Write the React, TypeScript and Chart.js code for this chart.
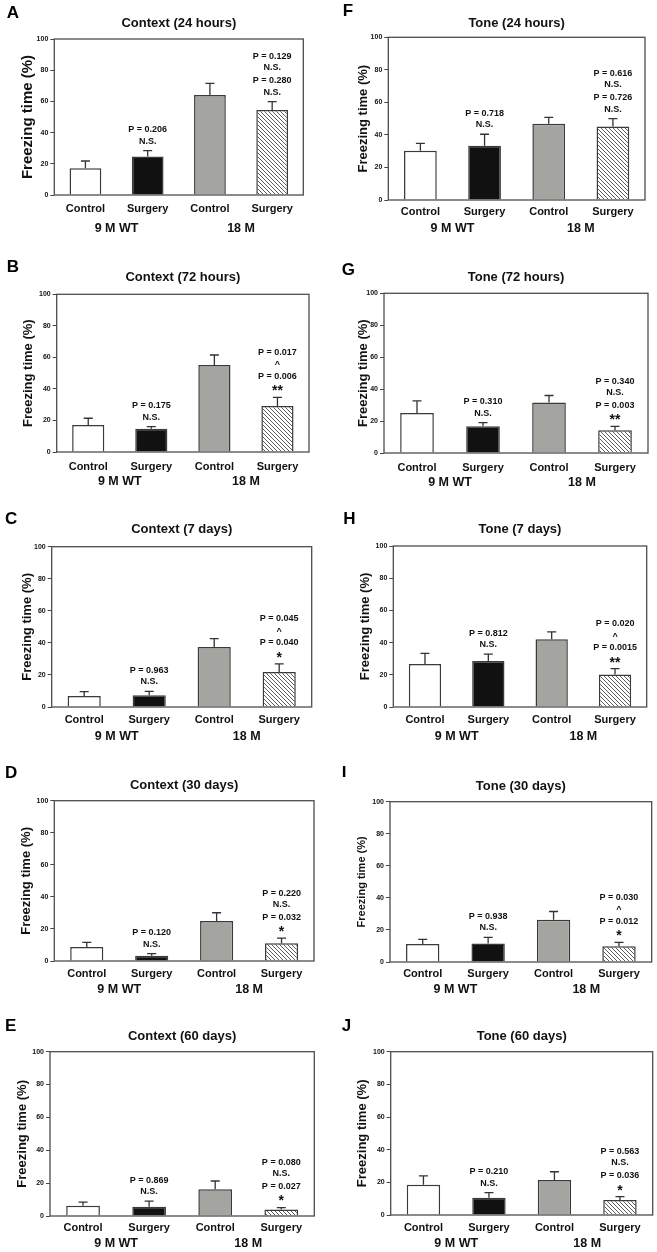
import React, { useEffect, useRef } from 'react';
import { Chart, registerables } from 'chart.js';

Chart.register(...registerables);
Chart.defaults.font.family = "'Liberation Sans', Arial, Helvetica, sans-serif";
Chart.defaults.color = '#111';

// ---------- data ----------
const categories = ['Control', 'Surgery', 'Control', 'Surgery'];
const groups = ['9 M WT', '18 M'];
const yAxisTitle = 'Freezing time (%)';

// Context test: mean freezing (%) and SEM per group
const ctx24hMean = [17.1, 24.6, 64.1, 54.5];
const ctx24hSem = [4.7, 3.8, 7.5, 5.3];
const ctx72hMean = [17.1, 14.8, 55.2, 29.2];
const ctx72hSem = [4.3, 1.3, 6.3, 5.5];
const ctx7dMean = [6.9, 7.3, 37.5, 21.9];
const ctx7dSem = [2.7, 2.5, 5.2, 5.0];
const ctx30dMean = [8.7, 3.3, 24.9, 11.0];
const ctx30dSem = [2.9, 1.3, 5.2, 3.3];
const ctx60dMean = [6.3, 5.7, 16.3, 3.9];
const ctx60dSem = [2.2, 3.4, 5.0, 1.2];

// Tone test
const tone24hMean = [30.3, 33.4, 46.9, 45.1];
const tone24hSem = [4.5, 7.0, 3.9, 4.9];
const tone72hMean = [25.0, 16.7, 31.7, 14.2];
const tone72hSem = [7.7, 2.3, 4.3, 2.5];
const tone7dMean = [26.7, 28.5, 42.1, 20.2];
const tone7dSem = [6.6, 4.4, 4.6, 3.6];
const tone30dMean = [11.2, 11.6, 26.3, 9.8];
const tone30dSem = [2.9, 3.8, 5.2, 2.4];
const tone60dMean = [18.6, 10.6, 21.4, 9.2];
const tone60dSem = [5.3, 3.1, 5.1, 2.0];

// annotation text above 9M surgery bar and 18M surgery bar
const notesA = [['P = 0.206', 'N.S.'], ['P = 0.129', 'N.S.', 'P = 0.280', 'N.S.']];
const notesB = [['P = 0.175', 'N.S.'], ['P = 0.017', '^', 'P = 0.006', '**']];
const notesC = [['P = 0.963', 'N.S.'], ['P = 0.045', '^', 'P = 0.040', '*']];
const notesD = [['P = 0.120', 'N.S.'], ['P = 0.220', 'N.S.', 'P = 0.032', '*']];
const notesE = [['P = 0.869', 'N.S.'], ['P = 0.080', 'N.S.', 'P = 0.027', '*']];
const notesF = [['P = 0.718', 'N.S.'], ['P = 0.616', 'N.S.', 'P = 0.726', 'N.S.']];
const notesG = [['P = 0.310', 'N.S.'], ['P = 0.340', 'N.S.', 'P = 0.003', '**']];
const notesH = [['P = 0.812', 'N.S.'], ['P = 0.020', '^', 'P = 0.0015', '**']];
const notesI = [['P = 0.938', 'N.S.'], ['P = 0.030', '^', 'P = 0.012', '*']];
const notesJ = [['P = 0.210', 'N.S.'], ['P = 0.563', 'N.S.', 'P = 0.036', '*']];

// ---------- layout (positions only) ----------
type Layout = {
  x: number; w: number; L: number; R: number; T: number; B: number;
  titleY: number; catY: number; groupY: number; yTitleX: number; yTitleSize: number;
  letterX: number; letterY: number;
};
const layoutA: Layout = { x: 0, w: 330, L: 54.3, R: 303.3, T: 39, B: 195, titleY: 23, catY: 208.7, groupY: 228.3, yTitleX: 28, yTitleSize: 15, letterX: 6.7, letterY: 13.3 };
const layoutF: Layout = { x: 330, w: 327, L: 388.3, R: 645, T: 37.3, B: 200, titleY: 23.3, catY: 211.7, groupY: 228.5, yTitleX: 363, yTitleSize: 13, letterX: 342.7, letterY: 11.7 };
const layoutB: Layout = { x: 0, w: 330, L: 56.7, R: 309, T: 294.3, B: 452, titleY: 277.3, catY: 466.7, groupY: 481.7, yTitleX: 28, yTitleSize: 13, letterX: 6.7, letterY: 267.5 };
const layoutG: Layout = { x: 330, w: 327, L: 384, R: 648, T: 293.3, B: 453.3, titleY: 277.3, catY: 468.3, groupY: 483.3, yTitleX: 363, yTitleSize: 13, letterX: 341.7, letterY: 270 };
const layoutC: Layout = { x: 0, w: 330, L: 51.7, R: 311.7, T: 546.7, B: 706.7, titleY: 529.3, catY: 720, groupY: 736.7, yTitleX: 27, yTitleSize: 13, letterX: 5, letterY: 519 };
const layoutH: Layout = { x: 330, w: 327, L: 393.3, R: 646.7, T: 546, B: 707.3, titleY: 529.3, catY: 720, groupY: 737, yTitleX: 365, yTitleSize: 13, letterX: 343.3, letterY: 519 };
const layoutD: Layout = { x: 0, w: 330, L: 54.3, R: 314, T: 800.7, B: 961, titleY: 785.7, catY: 974.3, groupY: 990, yTitleX: 26, yTitleSize: 13, letterX: 5, letterY: 773.3 };
const layoutI: Layout = { x: 330, w: 327, L: 390, R: 651.7, T: 801.7, B: 962.3, titleY: 786.7, catY: 974.3, groupY: 990, yTitleX: 362, yTitleSize: 11, letterX: 341.7, letterY: 772.5 };
const layoutE: Layout = { x: 0, w: 330, L: 50, R: 314.3, T: 1051.7, B: 1215.7, titleY: 1036, catY: 1227.7, groupY: 1243, yTitleX: 22, yTitleSize: 13, letterX: 5, letterY: 1026.7 };
const layoutJ: Layout = { x: 330, w: 327, L: 390.7, R: 652.7, T: 1051.7, B: 1215, titleY: 1036.7, catY: 1227.7, groupY: 1243.3, yTitleX: 362, yTitleSize: 13, letterX: 341.7, letterY: 1026.7 };

type PanelSpec = { letter: string; title: string; mean: number[]; sem: number[]; notes: string[][]; layout: Layout };

const panels: PanelSpec[] = [
  { letter: 'A', title: 'Context (24 hours)', mean: ctx24hMean, sem: ctx24hSem, notes: notesA, layout: layoutA },
  { letter: 'B', title: 'Context (72 hours)', mean: ctx72hMean, sem: ctx72hSem, notes: notesB, layout: layoutB },
  { letter: 'C', title: 'Context (7 days)', mean: ctx7dMean, sem: ctx7dSem, notes: notesC, layout: layoutC },
  { letter: 'D', title: 'Context (30 days)', mean: ctx30dMean, sem: ctx30dSem, notes: notesD, layout: layoutD },
  { letter: 'E', title: 'Context (60 days)', mean: ctx60dMean, sem: ctx60dSem, notes: notesE, layout: layoutE },
  { letter: 'F', title: 'Tone (24 hours)', mean: tone24hMean, sem: tone24hSem, notes: notesF, layout: layoutF },
  { letter: 'G', title: 'Tone (72 hours)', mean: tone72hMean, sem: tone72hSem, notes: notesG, layout: layoutG },
  { letter: 'H', title: 'Tone (7 days)', mean: tone7dMean, sem: tone7dSem, notes: notesH, layout: layoutH },
  { letter: 'I', title: 'Tone (30 days)', mean: tone30dMean, sem: tone30dSem, notes: notesI, layout: layoutI },
  { letter: 'J', title: 'Tone (60 days)', mean: tone60dMean, sem: tone60dSem, notes: notesJ, layout: layoutJ },
];

const TOP_GAP = 36;
const X_H = 22;
const X2_H = 26;
const FONT = "'Liberation Sans', Arial, Helvetica, sans-serif";

function makeHatch(): CanvasPattern | string {
  const c = document.createElement('canvas');
  c.width = 4; c.height = 4;
  const g = c.getContext('2d');
  if (!g) return '#ccc';
  g.fillStyle = '#ffffff';
  g.fillRect(0, 0, 4, 4);
  g.strokeStyle = '#4a4a4a';
  g.lineWidth = 0.9;
  g.beginPath();
  g.moveTo(0, 0); g.lineTo(4, 4);
  g.moveTo(-1, 3); g.lineTo(1, 5);
  g.moveTo(3, -1); g.lineTo(5, 1);
  g.stroke();
  return g.createPattern(c, 'repeat') || '#ccc';
}

function Panel({ p }: { p: PanelSpec }) {
  const ref = useRef<HTMLCanvasElement>(null);
  const lay = p.layout;
  const y0 = Math.round(lay.T - TOP_GAP);
  const top = lay.T - y0;
  const h = Math.round(lay.B - y0 + X_H + X2_H);

  useEffect(() => {
    const canvas = ref.current;
    if (!canvas) return;
    const titleLH = 13 * 1.2;
    const tPadTop = lay.titleY - y0 - titleLH / 2;
    const tPadBottom = top - tPadTop - titleLH;
    const yTitleLH = lay.yTitleSize * 1.2;
    const catPad = lay.catY - lay.B - 11 * 1.2 / 2;
    const grpPad = lay.groupY - lay.B - X_H - 12.5 * 1.2 / 2;

    const decor = {
      id: 'decor',
      afterDatasetsDraw(chart: any) {
        const { ctx, chartArea } = chart;
        const ys = chart.scales.y;
        const meta = chart.getDatasetMeta(0);
        ctx.save();
        // frame
        ctx.strokeStyle = '#4d4d4d';
        ctx.lineWidth = 1.3;
        ctx.strokeRect(chartArea.left, chartArea.top, chartArea.right - chartArea.left, chartArea.bottom - chartArea.top);
        // error bars
        ctx.strokeStyle = '#333';
        ctx.lineWidth = 1.3;
        meta.data.forEach((bar: any, i: number) => {
          const yb = ys.getPixelForValue(p.mean[i]);
          const yt = ys.getPixelForValue(p.mean[i] + p.sem[i]);
          ctx.beginPath();
          ctx.moveTo(bar.x, yb);
          ctx.lineTo(bar.x, yt);
          ctx.moveTo(bar.x - 4.5, yt);
          ctx.lineTo(bar.x + 4.5, yt);
          ctx.stroke();
        });
        // annotations
        ctx.fillStyle = '#111';
        ctx.textAlign = 'center';
        ctx.textBaseline = 'middle';
        const targets = [1, 3];
        targets.forEach((idx, n) => {
          const lines = p.notes[n];
          const bar = meta.data[idx];
          const yt = ys.getPixelForValue(p.mean[idx] + p.sem[idx]);
          const offs = lines.length === 2 ? [21, 9.5] : [45, 34, 21, 9];
          lines.forEach((txt, k) => {
            let y = yt - offs[k];
            if (txt.startsWith('*')) {
              ctx.font = `bold 14px ${FONT}`;
              y += 3;
            } else {
              ctx.font = `bold 9px ${FONT}`;
              if (txt === '^') y += 1.5;
            }
            ctx.fillText(txt, bar.x, y);
          });
        });
        // panel letter
        ctx.textAlign = 'left';
        ctx.font = `bold 17px ${FONT}`;
        ctx.fillStyle = '#000';
        ctx.fillText(p.letter, lay.letterX - lay.x, lay.letterY - y0);
        ctx.restore();
      },
    };

    const chart = new Chart(canvas, {
      type: 'bar',
      data: {
        labels: categories,
        datasets: [
          {
            data: p.mean,
            xAxisID: 'x',
            yAxisID: 'y',
            backgroundColor: ['#ffffff', '#111111', '#a4a4a0', makeHatch()] as any,
            borderColor: '#3a3a3a',
            borderWidth: 1.5,
            barPercentage: 0.51,
            categoryPercentage: 1,
          },
        ],
      },
      options: {
        responsive: false,
        animation: false,
        devicePixelRatio: 1,
        layout: { padding: { left: 0, top: 0, right: lay.x + lay.w - lay.R, bottom: 0 } },
        plugins: {
          legend: { display: false },
          tooltip: { enabled: false },
          title: {
            display: true,
            text: p.title,
            fullSize: false,
            color: '#111',
            font: { size: 13, weight: 'bold' },
            padding: { top: tPadTop, bottom: tPadBottom },
          },
        },
        scales: {
          x: {
            type: 'category',
            position: 'bottom',
            weight: 0,
            grid: { display: false, drawTicks: false },
            border: { display: false },
            ticks: { font: { size: 11, weight: 'bold' }, color: '#111', padding: catPad, maxRotation: 0, autoSkip: false },
            afterFit: (s: any) => { s.height = X_H; },
          },
          x2: {
            type: 'category',
            position: 'bottom',
            weight: 1,
            labels: groups,
            offset: true,
            grid: { display: false, drawTicks: false },
            border: { display: false },
            ticks: { font: { size: 12.5, weight: 'bold' }, color: '#111', padding: grpPad, maxRotation: 0, autoSkip: false },
            afterFit: (s: any) => { s.height = X2_H; },
          },
          y: {
            type: 'linear',
            position: 'left',
            min: 0,
            max: 100,
            ticks: { stepSize: 20, font: { size: 7, weight: 'bold' }, color: '#111', padding: 2 },
            grid: { display: true, drawOnChartArea: false, drawTicks: true, tickLength: 4, color: '#444' },
            border: { display: false },
            title: {
              display: true,
              text: yAxisTitle,
              color: '#111',
              font: { size: lay.yTitleSize, weight: 'bold' },
              padding: { top: lay.yTitleX - lay.x - yTitleLH / 2, bottom: 0 },
            },
            afterFit: (s: any) => { s.width = lay.L - lay.x; },
          },
        },
      } as any,
      plugins: [decor],
    });
    return () => chart.destroy();
  }, []);

  return (
    <canvas
      ref={ref}
      width={lay.w}
      height={h}
      style={{ position: 'absolute', left: lay.x, top: y0, width: lay.w, height: h, display: 'block' }}
    />
  );
}

export default function App() {
  return (
    <div style={{ position: 'absolute', left: 0, top: 0, width: 657, height: 1252, overflow: 'hidden', background: '#fff' }}>
      {panels.map((p) => (
        <Panel key={p.letter} p={p} />
      ))}
    </div>
  );
}
